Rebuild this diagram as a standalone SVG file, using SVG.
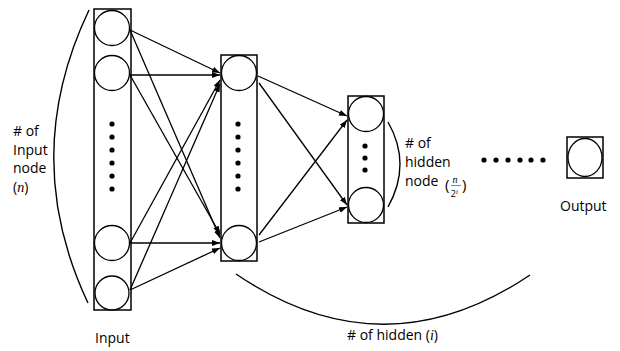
<svg xmlns="http://www.w3.org/2000/svg" width="620" height="351" viewBox="0 0 620 351">
<style>
.box{fill:none;stroke:#000;stroke-width:1.5}
.nd{fill:#fff;stroke:#000;stroke-width:1.3}
.dot{fill:#000}
.ln{fill:none;stroke:#000;stroke-width:1.3}
.br{fill:none;stroke:#000;stroke-width:1.4}
text{font-family:"Open Sans","Noto Sans CJK KR",sans-serif;font-size:14px;fill:#000}
.m{font-family:"Liberation Serif",serif;font-style:italic}
</style>
<defs>
<marker id="ah" markerUnits="userSpaceOnUse" markerWidth="9" markerHeight="7" refX="8" refY="3" orient="auto">
<path d="M0,0 L8,3 L0,6 z" fill="#000"/>
</marker>
</defs>
<rect width="620" height="351" fill="#fff"/>
<g id="connectors">
<path class="ln" marker-end="url(#ah)" d="M130,30 L220,73"/>
<path class="ln" marker-end="url(#ah)" d="M130,30 L220,238"/>
<path class="ln" marker-end="url(#ah)" d="M130,75 L220,75"/>
<path class="ln" marker-end="url(#ah)" d="M130,75 L220,234"/>
<path class="ln" marker-end="url(#ah)" d="M130,243 L220,80"/>
<path class="ln" marker-end="url(#ah)" d="M130,243 L220,243"/>
<path class="ln" marker-end="url(#ah)" d="M130,290 L220,84"/>
<path class="ln" marker-end="url(#ah)" d="M130,290 L220,248"/>
<path class="ln" marker-end="url(#ah)" d="M258,76 L347,116"/>
<path class="ln" marker-end="url(#ah)" d="M259,83 L347,205"/>
<path class="ln" marker-end="url(#ah)" d="M259,235 L347,120"/>
<path class="ln" marker-end="url(#ah)" d="M259,242 L347,207"/>
</g>
<g id="input-layer">
<rect class="box" x="94" y="9" width="37" height="301"/>
<circle class="nd" cx="112" cy="28" r="17.5"/>
<circle class="nd" cx="112" cy="73" r="17.5"/>
<circle class="nd" cx="112" cy="243" r="17.5"/>
<circle class="nd" cx="112" cy="293" r="17"/>
<circle class="dot" cx="112" cy="124" r="2.6"/>
<circle class="dot" cx="112" cy="137" r="2.6"/>
<circle class="dot" cx="112" cy="150" r="2.6"/>
<circle class="dot" cx="112" cy="163" r="2.6"/>
<circle class="dot" cx="112" cy="176" r="2.6"/>
<circle class="dot" cx="112" cy="189" r="2.6"/>
</g>
<g id="hidden-layer-1">
<rect class="box" x="221" y="55" width="36" height="206"/>
<circle class="nd" cx="239" cy="73" r="17.5"/>
<circle class="nd" cx="239" cy="243" r="17.5"/>
<circle class="dot" cx="238" cy="124" r="2.6"/>
<circle class="dot" cx="238" cy="137" r="2.6"/>
<circle class="dot" cx="238" cy="150" r="2.6"/>
<circle class="dot" cx="238" cy="163" r="2.6"/>
<circle class="dot" cx="238" cy="176" r="2.6"/>
<circle class="dot" cx="238" cy="189" r="2.6"/>
</g>
<g id="hidden-layer-2">
<rect class="box" x="348" y="96" width="36" height="127"/>
<circle class="nd" cx="366" cy="114" r="17.5"/>
<circle class="nd" cx="366" cy="205" r="17.5"/>
<circle class="dot" cx="365" cy="146" r="2.6"/>
<circle class="dot" cx="365" cy="158" r="2.6"/>
<circle class="dot" cx="365" cy="170" r="2.6"/>
</g>
<g id="ellipsis">
<circle class="dot" cx="484" cy="160" r="2.6"/>
<circle class="dot" cx="496" cy="160" r="2.6"/>
<circle class="dot" cx="508" cy="160" r="2.6"/>
<circle class="dot" cx="520" cy="160" r="2.6"/>
<circle class="dot" cx="531" cy="160" r="2.6"/>
<circle class="dot" cx="543" cy="160" r="2.6"/>
</g>
<g id="output-layer">
<rect class="box" x="567" y="137" width="36" height="41"/>
<ellipse class="nd" cx="585" cy="157.5" rx="17" ry="19"/>
<text x="560" y="211">Output</text>
</g>
<g id="brackets">
<path class="br" d="M89,10 Q19,157 88,303"/>
<path class="br" d="M388,122 Q412,164 388,207"/>
<path class="br" d="M236,274 Q383,374 530,275"/>
</g>
<g id="labels">
<text x="13" y="136">#&#160;of</text>
<text x="13" y="155">Input</text>
<text x="13" y="173">node</text>
<text x="13" y="192">(<tspan class="m">n</tspan>)</text>
<text x="405" y="148">#&#160;of</text>
<text x="405" y="167">hidden</text>
<text x="405" y="186">node<tspan x="445" y="190" font-size="15">(</tspan><tspan class="m" font-size="10" x="452.5" y="183">n</tspan><tspan font-size="9.5" x="450.5" y="197">2</tspan><tspan class="m" font-size="7" dy="-3.5">i</tspan><tspan font-size="15" x="462" y="190">)</tspan></text>
<line x1="451" y1="185.5" x2="461" y2="185.5" stroke="#000" stroke-width="0.5"/>
<text x="95" y="343">Input</text>
<text x="347" y="340">#&#160;of hidden (<tspan class="m">i</tspan>)</text>
</g>
</svg>
